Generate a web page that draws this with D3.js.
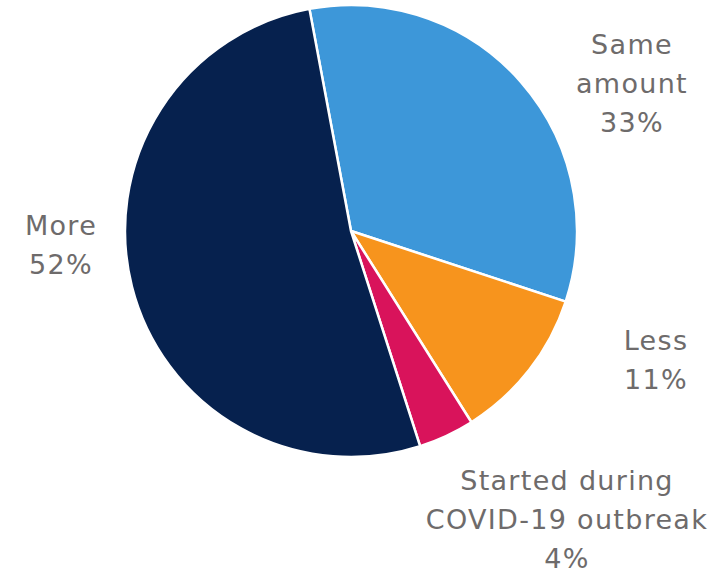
<!DOCTYPE html>
<html>
<head>
<meta charset="utf-8">
<script src="https://cdn.jsdelivr.net/npm/d3@7"></script>
<style>
  html, body { margin: 0; padding: 0; background: #fff; }
  svg { display: block; }
</style>
</head>
<body>
<svg id="chart" width="726" height="574"></svg>
<script>
const categories = ["Same amount", "Less", "Started during COVID-19 outbreak", "More"];
const values = [33, 11, 4, 52];
const colors = ["#3d97d9", "#f7941d", "#d9135b", "#06214e"];
const labelLines = [["Same", "amount", "33%"], ["Less", "11%"], ["Started during", "COVID-19 outbreak", "4%"], ["More", "52%"]];
// x centre and first-line baseline for each label
const labelPos = [[632, 54], [656, 350], [567, 490], [61, 235]];

const svg = d3.select("#chart");
const cx = 351, cy = 231, r = 226;
const startDeg = -10.6;

const data = categories.map((c, i) => ({ cat: c, value: values[i], color: colors[i], lines: labelLines[i], pos: labelPos[i] }));

const pie = d3.pie().value(d => d.value).sort(null)
  .startAngle(startDeg * Math.PI / 180)
  .endAngle(startDeg * Math.PI / 180 + 2 * Math.PI);
const arc = d3.arc().innerRadius(0).outerRadius(r);

const g = svg.append("g").attr("transform", `translate(${cx},${cy})`);
g.selectAll("path").data(pie(data)).join("path")
  .attr("d", arc)
  .attr("fill", d => d.data.color)
  .attr("stroke", "#fff")
  .attr("stroke-width", 2.5)
  .attr("stroke-linejoin", "round");

const lineH = 39;
const labels = svg.selectAll("text.lbl").data(data).join("text")
  .attr("class", "lbl")
  .attr("text-anchor", "middle")
  .attr("font-family", "'DejaVu Sans', sans-serif")
  .attr("font-size", 27)
  .attr("letter-spacing", 1.3)
  .attr("fill", "#6e6b6b");
labels.each(function(d) {
  const t = d3.select(this);
  d.lines.forEach((ln, i) => {
    t.append("tspan")
      .attr("x", d.pos[0])
      .attr("y", d.pos[1] + i * lineH)
      .text(ln);
  });
});
</script>
</body>
</html>
